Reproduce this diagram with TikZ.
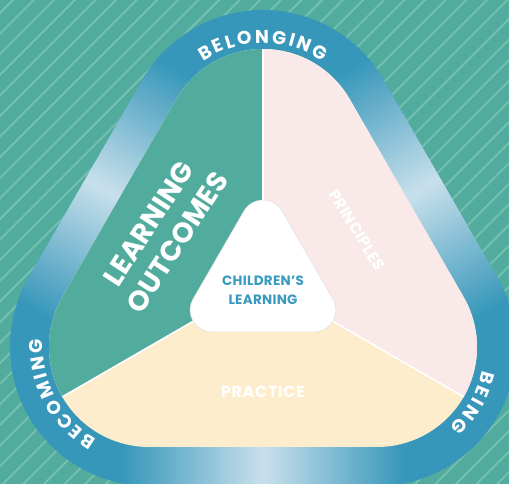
\documentclass[tikz,border=0pt]{standalone}
\usepackage{fontspec}
\setmainfont{Poppins}
\usetikzlibrary{calc}
\definecolor{teal0}{RGB}{82,172,157}
\definecolor{stripecol}{RGB}{118,192,178}
\definecolor{ringblue}{RGB}{55,151,186}
\definecolor{ringlight}{RGB}{200,224,236}
\definecolor{pinkfill}{RGB}{249,233,233}
\definecolor{creamfill}{RGB}{254,237,204}
\definecolor{textblue}{RGB}{58,154,190}
\newcommand\rtripath[4]{([shift={(30:#4)}]#1) arc[start angle=30,end angle=150,radius=#4]
  -- ([shift={(150:#4)}]#2) arc[start angle=150,end angle=270,radius=#4]
  -- ([shift={(270:#4)}]#3) arc[start angle=270,end angle=390,radius=#4] -- cycle}
\newcommand\ringfont{\fontsize{18.5}{19}\selectfont\bfseries}
\newcommand\arcword[7]{%
  \gdef\awtot{0}%
  \foreach \ch in {#7}{%
    \pgfmathparse{\awtot+width("\ch")+#6}\xdef\awtot{\pgfmathresult}}%
  \pgfmathsetmacro\awstart{#5+(\awtot-#6)/2/#4*57.29578}%
  \gdef\awcum{0}%
  \foreach \ch [count=\i] in {#7}{%
    \pgfmathsetmacro\aww{width("\ch")}%
    \pgfmathsetmacro\awa{\awstart-(\awcum+\aww/2)/#4*57.29578}%
    \node[ringlbl, rotate=\awa-90, anchor=base] (#1-\i) at ({#2+#4*cos(\awa)},{#3+#4*sin(\awa)}) {\ch};%
    \pgfmathparse{\awcum+\aww+#6}\xdef\awcum{\pgfmathresult}}%
}
% gradient band along one straight side of the ring
\newcommand\gradband[3]{%
  \begin{scope}[shift={(#1,#2)}, rotate=#3]
    \foreach \i in {0,...,139}{%
      \pgfmathsetmacro\p{100*(1-abs((\i+0.5)/70-1))}%
      \fill[ringlight!\p!ringblue] ({-140+\i*2},-40) rectangle ({-140+(\i+1)*2+1.2},40);
    }
  \end{scope}}
\tikzset{
  ringlbl/.style={text=white, font=\ringfont, inner sep=0pt},
  bigwhite/.style={text=white, font=\bfseries, inner sep=0pt, align=center},
  divider/.style={draw=white, line width=1.6pt},
}
\begin{document}
\begin{tikzpicture}[x=1pt,y=1pt]
\useasboundingbox (0,0) rectangle (509,484);
\clip (0,0) rectangle (509,484);
% background
\fill[teal0] (0,0) rectangle (509,484);
\foreach \k in {-2,...,50}{
  \pgfmathsetmacro\c{13+20.6*\k}
  \draw[stripecol, line width=1.8pt] (\c+10,494) -- (\c-510,-26);
}
% corner centres
\coordinate (T) at (263,335);
\coordinate (BL) at (149,137);
\coordinate (BR) at (377,137);
\coordinate (C) at (263,203);
\coordinate (CT) at (263,262);
\coordinate (CBL) at (212.1,174);
\coordinate (CBR) at (313.9,174);
% ring
\fill[ringblue] \rtripath{T}{BL}{BR}{139};
\begin{scope}
  \clip \rtripath{T}{BL}{BR}{139};
  \gradband{263}{17.5}{0}
  \gradband{102.5}{295.8}{60}
  \gradband{423.5}{295.8}{-60}
\end{scope}
% inner sectors
\begin{scope}
  \clip \rtripath{T}{BL}{BR}{100};
  \fill[creamfill] (-10,-10) rectangle (520,500);
  \fill[teal0] (C) -- (263,700) -- (-300,700) -- (-300,-122) -- cycle;
  \fill[pinkfill] (C) -- (263,700) -- (826,700) -- (826,-122) -- cycle;
  \coordinate (DL) at ($(C)+(210:600)$);
  \coordinate (DR) at ($(C)+(330:600)$);
  \coordinate (DT) at (263,700);
  \draw[divider] (C) -- (DT);
  \draw[divider] (C) -- (DL);
  \draw[divider] (C) -- (DR);
\end{scope}
% centre
\fill[white, draw=black!12, line width=0.5pt] \rtripath{CT}{CBL}{CBR}{22};
\node[text=textblue, font=\bfseries\fontsize{13.5}{19}\selectfont\addfontfeature{LetterSpace=2}, align=center, inner sep=0pt] (cl) at (263,193.5) {CHILDREN’S\\LEARNING};
% sector labels
\node[bigwhite, font=\bfseries\fontsize{28}{34}\selectfont\addfontfeature{LetterSpace=1}, rotate=57] (lo) at (163,251) {LEARNING\\OUTCOMES};
\node[bigwhite, font=\bfseries\fontsize{15.5}{16}\selectfont\addfontfeature{LetterSpace=3}, rotate=-58] (pr) at (357,254) {PRINCIPLES};
\node[bigwhite, font=\bfseries\fontsize{16}{16}\selectfont\addfontfeature{LetterSpace=4}] (pc) at (263,92) {PRACTICE};
% ring labels
\ringfont
\arcword{bel}{263}{335}{106}{90}{2.5}{B,E,L,O,N,G,I,N,G}
\arcword{bec}{149}{137}{106}{208}{2.5}{B,E,C,O,M,I,N,G}
\arcword{bei}{377}{137}{108}{330}{2.5}{B,E,I,N,G}
\end{tikzpicture}
\end{document}
